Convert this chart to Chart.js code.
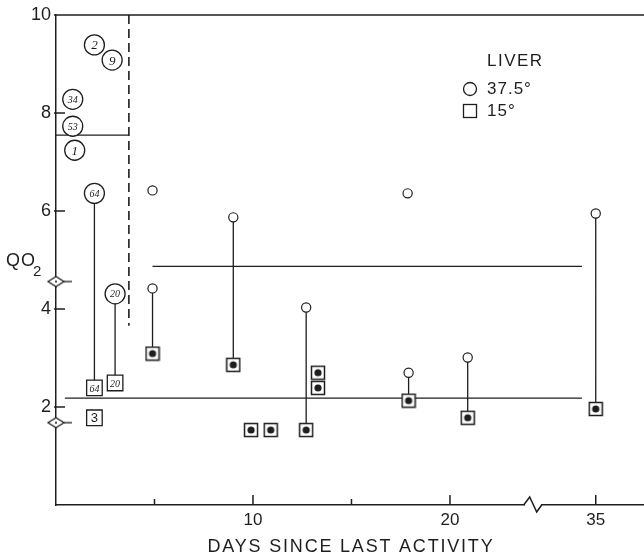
<!DOCTYPE html>
<html>
<head>
<meta charset="utf-8">
<script src="https://cdn.jsdelivr.net/npm/chart.js@4/dist/chart.umd.min.js"></script>
<style>
  html, body { margin: 0; padding: 0; background: #fff; }
</style>
</head>
<body>
<canvas id="liver" width="644" height="555"></canvas>
<script>
// x axis is broken: days between BREAK_AT and BREAK_AT + GAP are cut out
const BREAK_AT = 24.2
const GAP = 7.6
const pos = d => d > BREAK_AT ? d - GAP : d

// active animals, numbered
const activeIds = ['2', '9', '34', '53', '1', '64', '20']
const activeDays = [1.95, 2.85, 0.85, 0.85, 0.95, 1.95, 3.0]
const activeWarm = [9.39, 9.08, 8.28, 7.73, 7.24, 6.36, 4.31]
const activeColdIds = ['64', '20', '3']
const activeColdDays = [1.95, 3.0, 1.95]
const activeCold = [2.39, 2.49, 1.78]

// inactive animals, 37.5° and 15°
const warmDays = [4.9, 4.9, 9.0, 12.7, 17.85, 17.9, 20.9, 35]
const warmQO2 = [6.42, 4.42, 5.87, 4.03, 6.36, 2.70, 3.01, 5.95]
const coldDays = [4.9, 9.0, 9.9, 10.9, 12.7, 13.3, 13.3, 17.9, 20.9, 35]
const coldQO2 = [3.09, 2.86, 1.53, 1.53, 1.53, 2.70, 2.39, 2.13, 1.78, 1.96]

// same liver measured at both temperatures: [warm index, cold index]
const pairs = [[1, 0], [2, 1], [3, 4], [5, 7], [6, 8], [7, 9]]
const activePairs = [[5, 0], [6, 1]]

// group means
const activeMean = 7.55
const warmMean = 4.87
const coldMean = 2.18
const restingMarks = [4.56, 1.68]
const activeLimit = 3.7
const activeLimitLow = 3.66
const meanEnd = 34.3

const xTickDays = [5, 10, 15, 20, 35]
const xTickLabels = ['', '10', '', '20', '35']
const yTicks = [2, 4, 6, 8, 10]

const ink = '#1e1e1e'
const sans = '"Liberation Sans", Arial, sans-serif'

function dotSquare () {
  const c = document.createElement('canvas')
  c.width = 16; c.height = 16
  const g = c.getContext('2d')
  g.fillStyle = '#fff'
  g.fillRect(1.5, 1.5, 13, 13)
  g.strokeStyle = ink
  g.lineWidth = 1.5
  g.strokeRect(1.5, 1.5, 13, 13)
  g.fillStyle = ink
  g.beginPath(); g.arc(8, 8, 3.6, 0, Math.PI * 2); g.fill()
  return c
}

function diamond () {
  const c = document.createElement('canvas')
  c.width = 34; c.height = 12
  const g = c.getContext('2d')
  g.strokeStyle = ink
  g.lineWidth = 1.3
  g.beginPath()
  g.moveTo(9, 6); g.lineTo(17, 1); g.lineTo(25, 6); g.lineTo(17, 11); g.closePath()
  g.fillStyle = '#fff'; g.fill(); g.stroke()
  g.beginPath(); g.moveTo(25, 6); g.lineTo(33, 6); g.stroke()
  g.fillStyle = ink
  g.beginPath(); g.arc(17, 6, 1.1, 0, Math.PI * 2); g.fill()
  return c
}

const xy = (xs, ys) => xs.map((x, i) => ({ x: pos(x), y: ys[i] }))
const segment = (x0, x1, y) => [{ x: pos(x0), y }, { x: pos(x1), y }]

const stems = []
pairs.forEach(([w, c]) => {
  stems.push({ x: pos(warmDays[w]), y: warmQO2[w] }, { x: pos(coldDays[c]), y: coldQO2[c] }, { x: pos(coldDays[c]), y: null })
})
activePairs.forEach(([w, c]) => {
  stems.push({ x: activeDays[w], y: activeWarm[w] }, { x: activeColdDays[c], y: activeCold[c] }, { x: activeColdDays[c], y: null })
})

const line = (data, extra) => Object.assign({
  data, showLine: true, pointRadius: 0, borderColor: ink, borderWidth: 1.3,
  spanGaps: false, order: 5
}, extra)

const datasets = [
  { data: xy(activeDays, activeWarm), pointStyle: 'circle', pointRadius: 10,
    backgroundColor: '#fff', borderColor: ink, borderWidth: 1.3, order: 0 },
  { data: xy(activeColdDays, activeCold), pointStyle: 'rect', pointRadius: 11,
    backgroundColor: '#fff', borderColor: ink, borderWidth: 1.3, order: 0 },
  { data: xy(warmDays, warmQO2), pointStyle: 'circle', pointRadius: 4.6,
    backgroundColor: '#fff', borderColor: ink, borderWidth: 1.2, order: 0 },
  { data: xy(coldDays, coldQO2), pointStyle: dotSquare(), order: 0 },
  { data: restingMarks.map(y => ({ x: 0, y })), pointStyle: diamond(), clip: false, order: 0 },
  line(stems),
  line(segment(0, activeLimit, activeMean)),
  line(segment(4.9, meanEnd, warmMean)),
  line(segment(0.45, meanEnd, coldMean)),
  line([{ x: activeLimit, y: 10 }, { x: activeLimit, y: activeLimitLow }], { borderDash: [9, 5], borderWidth: 1.6 })
]

// axes furniture, legend, and the numbers inside the active markers
const paper = {
  id: 'paper',
  afterDatasetsDraw (chart) {
    const ctx = chart.ctx
    ctx.save()
    ctx.fillStyle = ink
    ctx.textAlign = 'center'
    ctx.textBaseline = 'middle'
    chart.getDatasetMeta(0).data.forEach((p, i) => {
      const id = activeIds[i]
      ctx.font = 'italic ' + (id.length > 1 ? 10 : 13) + 'px "Liberation Serif", serif'
      ctx.fillText(id, p.x, p.y + 1)
    })
    chart.getDatasetMeta(1).data.forEach((p, i) => {
      const id = activeColdIds[i]
      ctx.font = id.length > 1 ? 'italic 10px "Liberation Serif", serif' : '13px ' + sans
      ctx.fillText(id, p.x, p.y + 1)
    })
    ctx.restore()
  },
  afterDraw (chart) {
    const { ctx, chartArea: a, scales: { x, y } } = chart
    ctx.save()
    ctx.strokeStyle = ink
    ctx.fillStyle = ink
    ctx.lineWidth = 1.5

    // top frame
    ctx.beginPath(); ctx.moveTo(a.left - 2, a.top); ctx.lineTo(a.right, a.top); ctx.stroke()

    // inward tick marks
    yTicks.slice(0, -1).forEach(v => {
      const py = y.getPixelForValue(v)
      ctx.beginPath(); ctx.moveTo(a.left - 2, py); ctx.lineTo(a.left + 9, py); ctx.stroke()
    })
    xTickDays.forEach((d, i) => {
      const px = x.getPixelForValue(pos(d))
      const len = xTickLabels[i] ? 10 : 6
      ctx.beginPath(); ctx.moveTo(px, a.bottom); ctx.lineTo(px, a.bottom - len); ctx.stroke()
    })

    // axis break
    const bx = x.getPixelForValue(BREAK_AT)
    ctx.clearRect(bx - 8, a.bottom - 2, 16, 4)
    ctx.beginPath()
    ctx.moveTo(bx - 9, a.bottom); ctx.lineTo(bx - 3, a.bottom - 8)
    ctx.lineTo(bx + 4, a.bottom + 7); ctx.lineTo(bx + 9, a.bottom)
    ctx.stroke()

    // axis titles
    ctx.textBaseline = 'middle'
    ctx.textAlign = 'center'
    ctx.font = '18px ' + sans
    ctx.letterSpacing = '1.8px'
    ctx.fillText('DAYS SINCE LAST ACTIVITY', (a.left + a.right) / 2 + 1, 547)
    ctx.letterSpacing = '1px'
    ctx.textAlign = 'left'
    ctx.fillText('QO', 6, 261)
    ctx.font = '15px ' + sans
    ctx.fillText('2', 33, 272)

    // legend
    ctx.font = '17px ' + sans
    ctx.letterSpacing = '1.5px'
    ctx.fillText('LIVER', 487, 61)
    ctx.letterSpacing = '1px'
    ctx.fillText('37.5°', 487, 89)
    ctx.fillText('15°', 487, 111)
    ctx.lineWidth = 1.3
    ctx.beginPath(); ctx.arc(470, 89, 6.5, 0, Math.PI * 2); ctx.stroke()
    ctx.strokeRect(463.5, 104.5, 13, 13)
    ctx.restore()
  }
}

new Chart(document.getElementById('liver'), {
  type: 'scatter',
  data: { datasets },
  plugins: [paper],
  options: {
    responsive: false,
    animation: false,
    layout: { autoPadding: false, padding: { top: 15, right: 0, bottom: 0, left: 0 } },
    plugins: { legend: { display: false }, tooltip: { enabled: false } },
    scales: {
      x: {
        type: 'linear', min: 0, max: 29.85,
        grid: { display: false, drawTicks: false },
        border: { display: true, color: ink, width: 1.5 },
        afterBuildTicks: s => { s.ticks = xTickDays.map(d => ({ value: pos(d) })) },
        afterFit: s => { s.height = 50; s.paddingLeft = 0; s.paddingRight = 0 },
        ticks: {
          autoSkip: false, maxRotation: 0, padding: 5, color: ink,
          font: { family: sans, size: 17 },
          callback: (v, i) => xTickLabels[i]
        }
      },
      y: {
        type: 'linear', min: 0, max: 10,
        grid: { display: false, drawTicks: false },
        border: { display: true, color: ink, width: 1.5 },
        afterBuildTicks: s => { s.ticks = yTicks.map(v => ({ value: v })) },
        afterFit: s => { s.width = 56; s.paddingTop = 0; s.paddingBottom = 0 },
        ticks: {
          padding: 5, color: ink,
          font: { family: sans, size: 18 },
          callback: v => String(v)
        }
      }
    }
  }
})
</script>
</body>
</html>
